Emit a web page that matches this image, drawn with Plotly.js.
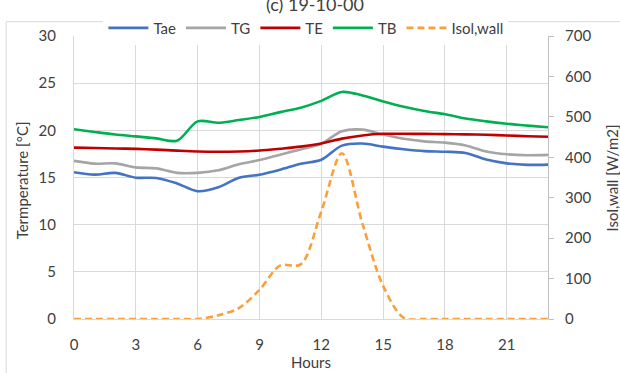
<!DOCTYPE html>
<html>
<head>
<meta charset="utf-8">
<script src="https://cdn.plot.ly/plotly-3.0.1.min.js"></script>
<style>
  html, body { margin: 0; padding: 0; background: #ffffff; }
  #chart { width: 620px; height: 373px; }
</style>
</head>
<body>
<div id="chart"></div>
<script>
const hours = [0,1,2,3,4,5,6,7,8,9,10,11,12,13,14,15,16,17,18,19,20,21,22,23];
const tae   = [15.56,15.30,15.49,14.98,14.95,14.37,13.55,13.96,14.98,15.30,15.83,16.46,16.88,18.38,18.60,18.27,18.00,17.80,17.73,17.60,16.90,16.50,16.34,16.37];
const tg    = [16.76,16.47,16.50,16.07,15.97,15.49,15.49,15.76,16.40,16.85,17.42,17.98,18.58,19.90,20.07,19.56,19.10,18.83,18.70,18.40,17.76,17.46,17.36,17.40];
const te    = [18.17,18.13,18.08,18.03,17.96,17.85,17.76,17.73,17.76,17.86,18.05,18.27,18.60,19.12,19.46,19.63,19.63,19.62,19.60,19.57,19.53,19.45,19.38,19.32];
const tb    = [20.12,19.83,19.56,19.36,19.15,18.90,20.95,20.80,21.09,21.42,21.93,22.40,23.12,24.07,23.70,23.06,22.50,22.05,21.70,21.25,20.95,20.70,20.50,20.32];
const isol  = [0,0,0,0,0,0,0,9,27,72,132,135,266,410,235,82,3,0,0,0,0,0,0,0];
const seriesNames = ['Tae','TG','TE','TB','Isol,wall'];
const xTicks = [0,3,6,9,12,15,18,21];
const chartTitle = '(c) 19-10-00';
const yTitleLeft = 'Termperature [°C]';
const yTitleRight = 'Isol,wall [W/m2]';
const xTitle = 'Hours';

const FONT = 'Lato, "Open Sans", sans-serif';
const TXT = '#404040';
const GRID = '#d9d9d9';

function line(y, name, color, axis, dash) {
  return {
    x: hours, y: y, name: name, type: 'scatter', mode: 'lines',
    yaxis: axis,
    line: {color: color, width: 2.6, shape: 'spline', smoothing: 0.9, dash: dash || 'solid'},
    hoverinfo: 'skip'
  };
}

const data = [
  line(tae, seriesNames[0], '#4472C4', 'y'),
  line(tg, seriesNames[1], '#A5A5A5', 'y'),
  line(te, seriesNames[2], '#C00000', 'y'),
  line(tb, seriesNames[3], '#00B050', 'y'),
  line(isol, seriesNames[4], '#F9A03A', 'y2', '7px,4px')
];

const layout = {
  width: 620, height: 373,
  margin: {l: 74, r: 72, t: 24, b: 54},
  paper_bgcolor: '#ffffff', plot_bgcolor: '#ffffff',
  font: {family: FONT, size: 15, color: TXT},
  showlegend: true,
  legend: {
    orientation: 'h', x: 0.062, y: 1.028, xanchor: 'left', yanchor: 'middle',
    bgcolor: '#ffffff', font: {family: FONT, size: 15, color: TXT},
    itemwidth: 40, traceorder: 'normal', tracegroupgap: 0
  },
  xaxis: {
    range: [0, 23], tickvals: xTicks, ticktext: xTicks.map(String),
    showgrid: true, gridcolor: GRID, gridwidth: 1,
    zeroline: false, showline: true, linecolor: GRID, linewidth: 1,
    ticks: '', ticklabelstandoff: 12,
    tickfont: {family: FONT, size: 15, color: TXT},
    title: {text: xTitle, font: {family: FONT, size: 15, color: TXT}, standoff: 4}
  },
  yaxis: {
    range: [0, 30], dtick: 5, tick0: 0,
    showgrid: true, gridcolor: GRID, gridwidth: 1,
    zeroline: false, showline: true, linecolor: GRID, linewidth: 1,
    ticks: '', ticklabelstandoff: 14,
    tickfont: {family: FONT, size: 15, color: TXT}
  },
  yaxis2: {
    range: [0, 700], dtick: 100, tick0: 0, overlaying: 'y', side: 'right',
    showgrid: false, zeroline: false, showline: true, linecolor: '#bfbfbf', linewidth: 1,
    ticks: 'outside', ticklen: 5, tickcolor: '#bfbfbf', ticklabelstandoff: 8,
    tickfont: {family: FONT, size: 15, color: TXT}
  },
  shapes: [
    {type: 'path', xref: 'paper', yref: 'paper',
     path: 'M -0.1432 -0.3 L -0.1432 1.0508 L 1.2 1.0508',
     line: {color: GRID, width: 1}}
  ],
  annotations: [
    {text: chartTitle, xref: 'paper', yref: 'paper', x: 0.508, y: 1.066,
     xanchor: 'center', yanchor: 'bottom', showarrow: false,
     font: {family: FONT, size: 18, color: TXT}},
    {text: yTitleLeft, xref: 'paper', yref: 'paper', x: -0.1097, y: 0.49,
     xanchor: 'center', yanchor: 'middle', textangle: -90, showarrow: false,
     font: {family: FONT, size: 15, color: TXT}},
    {text: yTitleRight, xref: 'paper', yref: 'paper', x: 1.135, y: 0.5,
     xanchor: 'center', yanchor: 'middle', textangle: -90, showarrow: false,
     font: {family: FONT, size: 15, color: TXT}}
  ]
};

Plotly.newPlot('chart', data, layout, {displayModeBar: false, staticPlot: true});
</script>
</body>
</html>
